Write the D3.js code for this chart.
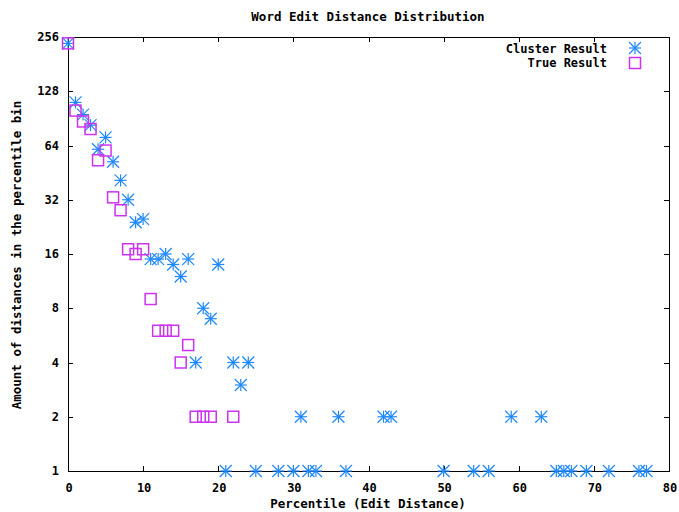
<!DOCTYPE html>
<html>
<head>
<meta charset="utf-8">
<script src="https://cdn.jsdelivr.net/npm/d3@7"></script>
<style>
body{margin:0;background:#fff;}
svg text{font-family:"DejaVu Sans Mono",monospace;font-weight:bold;font-size:12px;fill:#000;}
</style>
</head>
<body>
<svg id="chart" width="679" height="512"></svg>
<script>
const clusterX = [0,1,2,3,4,5,6,7,8,9,10,11,12,13,14,15,16,17,18,19,20,22,23,24,31,36,42,43,59,63,21,25,28,30,32,33,37,50,54,56,65,66,67,69,72,76,77];
const clusterY = [236,111,95,83,61,71,52,41,32,24,25,15,15,16,14,12,15,4,8,7,14,4,3,4,2,2,2,2,2,2,1,1,1,1,1,1,1,1,1,1,1,1,1,1,1,1,1];
const trueX = [0,1,2,3,4,5,6,7,8,9,10,11,12,13,14,15,16,17,18,19,22];
const trueY = [236,100,87,79,53,60,33,28,17,16,17,9,6,6,6,4,5,2,2,2,2];
const xTicks = [0,10,20,30,40,50,60,70,80];
const yTicks = [1,2,4,8,16,32,64,128,256];
const seriesNames = ["Cluster Result","True Result"];
const titleText = "Word Edit Distance Distribution";
const xLabel = "Percentile (Edit Distance)";
const yLabel = "Amount of distances in the percentile bin";

const L=68, R=669, T=37, B=471;
const svg = d3.select("#chart");
const x = d3.scaleLinear().domain([0,80]).range([L,R]);
const y = d3.scaleLog().base(2).domain([1,256]).range([B,T]);
const starColor = "#1e88ff", sqColor = "#cc33ee";
const tk = 5;

// ticks (mirrored, inward)
const g = svg.append("g").attr("stroke","#000").attr("stroke-width",1);
xTicks.forEach(v=>{
  const px = Math.round(x(v))+0.5;
  g.append("line").attr("x1",px).attr("x2",px).attr("y1",B).attr("y2",B-tk);
  g.append("line").attr("x1",px).attr("x2",px).attr("y1",T).attr("y2",T+tk);
});
yTicks.forEach(v=>{
  const py = Math.round(y(v))+0.5;
  g.append("line").attr("x1",L).attr("x2",L+tk).attr("y1",py).attr("y2",py);
  g.append("line").attr("x1",R).attr("x2",R-tk).attr("y1",py).attr("y2",py);
});
// frame
svg.append("rect").attr("x",L+0.5).attr("y",T+0.5).attr("width",R-L).attr("height",B-T)
  .attr("fill","none").attr("stroke","#000").attr("stroke-width",1);

// tick labels
xTicks.forEach(v=>{
  svg.append("text").attr("x",x(v)+1).attr("y",492).attr("text-anchor","middle").text(v);
});
yTicks.forEach(v=>{
  svg.append("text").attr("x",59).attr("y",y(v)+4).attr("text-anchor","end").text(v);
});

// titles
svg.append("text").attr("x",368).attr("y",21).attr("text-anchor","middle").style("font-size","12.5px").text(titleText);
svg.append("text").attr("x",368).attr("y",508).attr("text-anchor","middle").style("font-size","12.5px").text(xLabel);
svg.append("text").attr("transform","translate(21,255) rotate(-90)").attr("text-anchor","middle").style("font-size","12.5px").text(yLabel);

function star(sel, cx, cy){
  const r=6, d=r;
  const gg = sel.append("g").attr("stroke",starColor).attr("stroke-width",1.2);
  gg.append("line").attr("x1",cx-r).attr("x2",cx+r).attr("y1",cy).attr("y2",cy);
  gg.append("line").attr("x1",cx).attr("x2",cx).attr("y1",cy-r).attr("y2",cy+r);
  gg.append("line").attr("x1",cx-d).attr("x2",cx+d).attr("y1",cy-d).attr("y2",cy+d);
  gg.append("line").attr("x1",cx-d).attr("x2",cx+d).attr("y1",cy+d).attr("y2",cy-d);
}
function square(sel, cx, cy){
  const s=11;
  sel.append("rect").attr("x",cx-s/2).attr("y",cy-s/2).attr("width",s).attr("height",s)
    .attr("fill","none").attr("stroke",sqColor).attr("stroke-width",1.5);
}

const pts = svg.append("g");
clusterX.forEach((v,i)=> star(pts, x(v), y(clusterY[i])));
trueX.forEach((v,i)=> square(pts, x(v), y(trueY[i])));

// legend
svg.append("text").attr("x",607).attr("y",53).attr("text-anchor","end").text(seriesNames[0]);
svg.append("text").attr("x",607).attr("y",67).attr("text-anchor","end").text(seriesNames[1]);
star(svg, 635, 48);
square(svg, 635, 63);
</script>
</body>
</html>
